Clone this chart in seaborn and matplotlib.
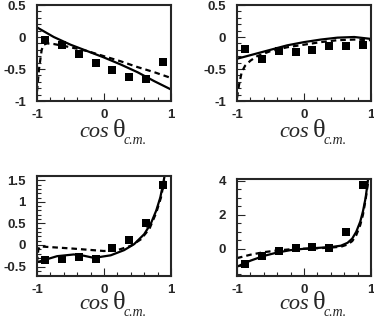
import numpy as np
import pandas as pd
import matplotlib
matplotlib.use('Agg')
import matplotlib.pyplot as plt
from matplotlib.ticker import MultipleLocator
import seaborn as sns

# bin centres of the measured points
bin_x = [-0.875, -0.625, -0.375, -0.125, 0.125, 0.375, 0.625, 0.875]

# measured values, one list per panel
pts_a = [-0.05, -0.13, -0.27, -0.41, -0.52, -0.63, -0.66, -0.39]
pts_b = [-0.18, -0.34, -0.22, -0.23, -0.20, -0.14, -0.14, -0.13]
pts_c = [-0.35, -0.33, -0.27, -0.32, -0.08, 0.12, 0.50, 1.40]
pts_d = [-0.92, -0.43, -0.14, 0.06, 0.10, 0.06, 0.98, 3.75]
err_a = [0.03] * 8
err_b = [0.03] * 8
err_c = [0.05, 0.04, 0.04, 0.04, 0.05, 0.06, 0.08, 0.10]
err_d = [0.10, 0.08, 0.08, 0.08, 0.08, 0.08, 0.12, 0.20]

# model curves (solid / dashed)
sol_a_x = [-1, -0.75, -0.5, -0.25, 0, 0.25, 0.5, 0.75, 1]
sol_a_y = [0.15, 0.0, -0.12, -0.22, -0.32, -0.43, -0.55, -0.69, -0.82]
dsh_a_x = [-1, -0.97, -0.93, -0.9, -0.85, -0.75, -0.5, -0.25, 0, 0.25, 0.5, 0.75, 1]
dsh_a_y = [-0.85, -0.5, -0.2, -0.12, -0.1, -0.11, -0.16, -0.22, -0.30, -0.38, -0.47, -0.55, -0.64]

sol_b_x = [-1, -0.75, -0.5, -0.25, 0, 0.25, 0.5, 0.75, 1]
sol_b_y = [-0.34, -0.27, -0.2, -0.13, -0.08, -0.04, -0.01, 0.0, -0.03]
dsh_b_x = [-1, -0.97, -0.93, -0.88, -0.8, -0.7, -0.5, -0.25, 0, 0.25, 0.5, 0.75, 1]
dsh_b_y = [-0.95, -0.75, -0.55, -0.45, -0.37, -0.3, -0.22, -0.16, -0.12, -0.08, -0.05, -0.04, -0.05]

sol_c_x = [-1, -0.85, -0.7, -0.45, -0.3, -0.15, 0.1, 0.3, 0.45, 0.6, 0.7, 0.78, 0.84, 0.88, 0.91]
sol_c_y = [-0.4, -0.33, -0.26, -0.22, -0.25, -0.30, -0.24, -0.12, 0.02, 0.25, 0.5, 0.8, 1.1, 1.4, 1.65]
dsh_c_x = [-1, -0.98, -0.95, -0.9, -0.7, -0.5, -0.25, 0, 0.2, 0.4, 0.55, 0.68, 0.78, 0.85, 0.9]
dsh_c_y = [-0.4, -0.1, -0.03, -0.04, -0.06, -0.08, -0.11, -0.14, -0.12, -0.02, 0.13, 0.38, 0.75, 1.1, 1.5]

sol_d_x = [-1, -0.8, -0.6, -0.4, -0.2, 0, 0.2, 0.4, 0.55, 0.65, 0.72, 0.78, 0.84, 0.88, 0.92, 0.96]
sol_d_y = [-1.05, -0.7, -0.42, -0.22, -0.08, 0.0, 0.05, 0.1, 0.18, 0.35, 0.6, 1.0, 1.6, 2.2, 3.0, 4.2]
dsh_d_x = [-1, -0.8, -0.6, -0.4, -0.2, 0, 0.2, 0.4, 0.55, 0.65, 0.72, 0.78, 0.84, 0.88, 0.92, 0.96]
dsh_d_y = [-0.55, -0.35, -0.2, -0.1, -0.03, 0.0, 0.03, 0.07, 0.12, 0.25, 0.45, 0.8, 1.4, 2.0, 2.9, 4.0]

sns.set_style('ticks')
plt.rcParams['font.family'] = ['Liberation Sans', 'DejaVu Sans']

fig = plt.figure(figsize=(3.74, 3.18), dpi=100)

W, H = 374, 318
def box(l, t, r, b):
    return [l / W, 1 - b / H, (r - l) / W, (b - t) / H]

panels = [
    dict(rect=box(37, 5, 171, 101), pts=pts_a, err=err_a,
         sol=(sol_a_x, sol_a_y), dsh=(dsh_a_x, dsh_a_y), lab=(109, 137),
         ylim=(-1, 0.5), yticks=[-1, -0.5, 0, 0.5], ylabels=['-1', '-0.5', '0', '0.5'], ymin=0.1),
    dict(rect=box(237, 5, 371, 101), pts=pts_b, err=err_b,
         sol=(sol_b_x, sol_b_y), dsh=(dsh_b_x, dsh_b_y), lab=(309, 137),
         ylim=(-1, 0.5), yticks=[-1, -0.5, 0, 0.5], ylabels=['-1', '-0.5', '0', '0.5'], ymin=0.1),
    dict(rect=box(37, 176, 171, 276), pts=pts_c, err=err_c,
         sol=(sol_c_x, sol_c_y), dsh=(dsh_c_x, dsh_c_y), lab=(109, 309),
         ylim=(-0.72, 1.6), yticks=[-0.5, 0, 0.5, 1, 1.5], ylabels=['-0.5', '0', '0.5', '1', '1.5'], ymin=0.1),
    dict(rect=box(237, 179, 371, 276), pts=pts_d, err=err_d,
         sol=(sol_d_x, sol_d_y), dsh=(dsh_d_x, dsh_d_y), lab=(309, 309),
         ylim=(-1.6, 4.1), yticks=[0, 2, 4], ylabels=['0', '2', '4'], ymin=0.5),
]

for p in panels:
    ax = fig.add_axes(p['rect'])
    df = pd.DataFrame({'x': bin_x, 'y': p['pts']})
    sx, sy = p['sol']
    dx, dy = p['dsh']
    sns.lineplot(x=sx, y=sy, ax=ax, color='black', lw=1.6, sort=False)
    sns.lineplot(x=dx, y=dy, ax=ax, color='black', lw=1.6, sort=False,
                 linestyle=(0, (2.5, 1.8)))
    ax.errorbar(bin_x, p['pts'], yerr=p['err'], fmt='none', ecolor='black', elinewidth=0.8)
    sns.scatterplot(data=df, x='x', y='y', ax=ax, marker='s', s=32, color='black',
                    edgecolor='black', linewidth=0, zorder=5)
    ax.set_xlim(-1, 1)
    ax.set_ylim(*p['ylim'])
    ax.set_xticks([-1, 0, 1])
    ax.set_xticklabels(['-1', '0', '1'])
    ax.set_yticks(p['yticks'])
    ax.set_yticklabels(p['ylabels'])
    ax.xaxis.set_minor_locator(MultipleLocator(0.2))
    ax.yaxis.set_minor_locator(MultipleLocator(p['ymin']))
    ax.tick_params(which='both', direction='in', top=False, right=False,
                   labelsize=9.5, width=0.8)
    ax.tick_params(axis='y', which='major', pad=8)
    ax.tick_params(axis='x', which='major', pad=6)
    ax.tick_params(which='major', length=6)
    ax.tick_params(which='minor', length=3)
    for lab in ax.get_xticklabels() + ax.get_yticklabels():
        lab.set_fontweight('bold')
    for s in ax.spines.values():
        s.set_linewidth(1.5)
    ax.set_xlabel('')
    ax.set_ylabel('')
    lx, ly = p['lab']
    fig.text(lx / W, 1 - ly / H, 'cos', ha='right', va='baseline', fontsize=16,
             family='Liberation Serif', style='italic')
    fig.text((lx + 4) / W, 1 - ly / H, 'θ', ha='left', va='baseline', fontsize=19,
             family='Liberation Serif')
    fig.text((lx + 15) / W, 1 - (ly + 7) / H, 'c.m.', ha='left', va='baseline', fontsize=10,
             family='Liberation Serif', style='italic')

fig.savefig('out.png', dpi=100)
